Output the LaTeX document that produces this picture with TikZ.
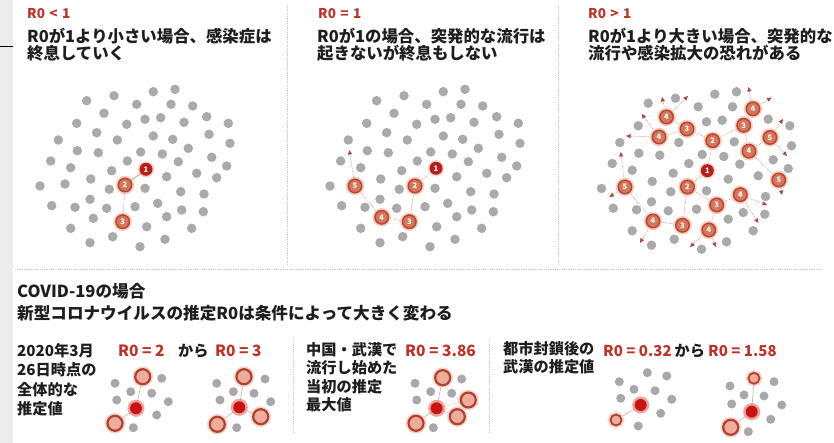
\documentclass[tikz,border=0pt]{standalone}
\usepackage{fontspec}
\setmainfont{Noto Sans CJK JP}
\usetikzlibrary{arrows.meta}
\definecolor{rtxt}{RGB}{190,50,40}
\definecolor{gdot}{RGB}{170,170,170}
\definecolor{dred}{RGB}{185,30,30}
\definecolor{salm}{RGB}{214,118,92}
\definecolor{ringc}{RGB}{185,70,50}
\definecolor{glow}{RGB}{246,208,195}
\definecolor{lnc}{RGB}{205,150,135}
\definecolor{arrc}{RGB}{175,70,60}
\definecolor{sepc}{RGB}{200,200,200}
\definecolor{stripc}{RGB}{236,236,236}
\definecolor{txt}{RGB}{30,30,30}
\definecolor{bred}{RGB}{200,20,20}
\definecolor{bhalo}{RGB}{235,125,115}
\definecolor{bpink}{RGB}{238,172,155}
\definecolor{bringc}{RGB}{175,65,50}
\definecolor{bglow}{RGB}{248,212,200}
\definecolor{bgray}{RGB}{168,168,172}
\definecolor{blc}{RGB}{200,185,175}
\def\dotsA{153.3/91.7,175/89.3,86.7/100.7,114/95.7,136.7/104.3,171/104.3,192.7/106,104/113.3,145/119.3,160.7/117.7,184/122.3,206.7/116.7,228.3/123.3,76.7/123.3,126.7/124.3,96.7/132.7,153.3/136,172.7/139.3,209/134.3,230/143.3,58.3/140,117.3/140,188.3/148.3,77.3/150.7,98.3/152.7,140.7/152,162.3/154,211.7/157.3,50.7/161,127.3/161,178.3/161.7,226.7/166,70.7/167.7,111.7/170.7,196.7/173.3,216.7/177.7,90.7/179,166.7/176.7,40/186,65/184,109.3/189.3,145/188.3,180.7/191.7,204/194,90/199.3,51.7/205.7,75/207.3,106.7/208.3,135/206.7,157.7/203.3,181.7/210,203.3/211.7,93.3/218.3,166.7/216.7,70.7/228.3,146.7/226.7,191.7/228.3,112.7/236.7,165/239.3,90/242.7,140/246.7}
\begin{document}
\begin{tikzpicture}[x=1pt,y=-1pt,
  gd/.style={circle,fill=gdot,minimum size=9.5pt,inner sep=0pt},
  nrone/.style={circle,fill=dred,minimum size=13pt,inner sep=0pt,text=white,font=\fontsize{7.5}{7.5}\selectfont\bfseries,preaction={draw=glow,line width=3pt}},
  nring/.style={circle,fill=salm,draw=ringc,line width=1.5pt,minimum size=13.5pt,inner sep=0pt,text=white,font=\fontsize{7.5}{7.5}\selectfont\bfseries,preaction={draw=glow,line width=5pt}},
  lnk/.style={draw=lnc,line width=0.7pt},
  dlnk/.style={lnk,densely dotted},
  arw/.style={dlnk,-{Triangle[length=4.5pt,width=4pt,color=arrc]}},
  sep/.style={draw=sepc,line width=0.8pt,densely dotted},
  hd/.style={anchor=base west,inner sep=0pt,text=rtxt,font=\fontsize{13.5}{13.5}\selectfont\bfseries},
  tt/.style={anchor=base west,inner sep=0pt,text=txt,font=\fontsize{16.4}{16.4}\selectfont\bfseries},
  tb/.style={anchor=base west,inner sep=0pt,text=txt,font=\fontsize{16.6}{16.6}\selectfont\bfseries},
  st/.style={anchor=base west,inner sep=0pt,text=txt,font=\fontsize{15.2}{15.2}\selectfont\bfseries},
  rv/.style={anchor=base west,inner sep=0pt,text=rtxt,font=\fontsize{15.5}{15.5}\selectfont\bfseries},
  rvs/.style={rv,font=\fontsize{15}{15}\selectfont\bfseries},
  bcen/.style={circle,fill=bred,minimum size=12pt,inner sep=0pt,preaction={draw=bhalo,line width=5pt,opacity=0.7}},
  bring/.style={circle,fill=bpink,draw=bringc,line width=2.2pt,minimum size=15pt,inner sep=0pt,preaction={draw=bglow,line width=5.5pt}},
  bsring/.style={bring,minimum size=11pt,line width=1.8pt},
  bgd/.style={circle,fill=bgray,minimum size=9pt,inner sep=0pt},
  blnk/.style={draw=blc,line width=0.7pt}
]
\useasboundingbox (0,0) rectangle (834,443);
\fill[white] (0,0) rectangle (834,443);
% left strip
\fill[stripc] (0,0) rectangle (13,443);
\draw[black,line width=1pt] (0,47) -- (13,47);
% separators
\draw[sep] (287,5) -- (287,265);
\draw[sep] (558,5) -- (558,265);
\draw[sep] (15,269) -- (820,269);
\draw[sep] (293,340) -- (293,432);
\draw[sep] (489,340) -- (489,432);
% headings
\node[hd] (h1) at (27,19) {R0\,\,<\,\,1};
\node[tt] (t1a) at (27,43) {R0が1より小さい場合、感染症は};
\node[tt] (t1b) at (27,60) {終息していく};
\node[hd] (h2) at (318,19) {R0\,\,=\,\,1};
\node[tt] (t2a) at (317,43) {R0が1の場合、突発的な流行は};
\node[tt] (t2b) at (317,60) {起きないが終息もしない};
\node[hd] (h3) at (588,19) {R0\,\,>\,\,1};
\node[tt] (t3a) at (588,43) {R0が1より大きい場合、突発的な};
\node[tt] (t3b) at (588,60) {流行や感染拡大の恐れがある};
% cluster 1
\foreach \x/\y [count=\i] in \dotsA {\node[gd] (c1g\i) at (\x,\y) {};}
\node[nrone] (c1n1) at (146,169.3) {1};
\node[nring] (c1n2) at (125,185) {2};
\node[nring] (c1n3) at (122.7,221.7) {3};
\draw[lnk] (c1n1) -- (c1n2);
\draw[dlnk] (c1n2) -- (c1n3);
% cluster 2
\begin{scope}[shift={(290,0)}]
\foreach \x/\y [count=\i] in \dotsA {\node[gd] (c2g\i) at (\x,\y) {};}
\end{scope}
\coordinate (c2t) at (349.3,150);
\draw[dlnk] (436,168.3) -- (415,186) -- (409.3,221.7) -- (381.7,217.3) -- (355,186);
\node[nrone] (c2n1) at (436,168.3) {1};
\node[nring] (c2n2) at (415,186) {2};
\node[nring] (c2n3) at (409.3,221.7) {3};
\node[nring] (c2n4) at (381.7,217.3) {4};
\node[nring] (c2n5) at (355,186) {5};
\draw[arw] (c2n5) -- (c2t);
% cluster 3
\begin{scope}[shift={(561.5,2.5)}]
\foreach \x/\y [count=\i] in \dotsA {\node[gd] (c3g\i) at (\x,\y) {};}
\end{scope}
\coordinate (p1) at (707.3,170.7);
\coordinate (pu2) at (712.7,140.7);
\coordinate (pul3) at (687,129);
\coordinate (pul4) at (666.5,117);
\coordinate (pl4) at (659,137);
\coordinate (pur3) at (743.7,125.3);
\coordinate (ptr4) at (753,108.8);
\coordinate (pr4) at (749,151.2);
\coordinate (pr5) at (770,137.5);
\coordinate (prb5) at (778.8,180);
\coordinate (pd2) at (687.5,187);
\coordinate (pm3) at (716.7,205);
\coordinate (plr4) at (740.3,194.7);
\coordinate (pb4) at (708.8,230);
\coordinate (pb3) at (682.5,225.3);
\coordinate (pbl4) at (653,221);
\coordinate (pl5) at (625,187);
\foreach \a/\b in {p1/pu2,p1/pd2,pu2/pul3,pu2/pur3,pul3/pul4,pul3/pl4,pur3/ptr4,pur3/pr4,pr4/pr5,pr4/prb5,pd2/pm3,pd2/pb3,pm3/plr4,pm3/pb4,pb3/pbl4,pbl4/pl5}
  {\draw[dlnk] (\a) -- (\b);}
\foreach \a/\x/\y [count=\k] in {pul4/662/97,pul4/688/96,pl4/641.7/114,pl4/626/136,ptr4/748.5/87,ptr4/771.5/97.5,pr5/783/119,pr5/787/156,prb5/782/195,plr4/767/205,plr4/758.5/223,pb4/716/247,pb4/690/247,pbl4/640/243,pl5/620.7/152,pl5/609.3/197}
  {\coordinate (c3t\k) at (\x,\y); \draw[arw] (\a) -- (c3t\k);}
\node[nrone] (c3n1) at (p1) {1};
\node[nring] (c3u2) at (pu2) {2};
\node[nring] (c3ul3) at (pul3) {3};
\node[nring] (c3ul4) at (pul4) {4};
\node[nring] (c3l4) at (pl4) {4};
\node[nring] (c3ur3) at (pur3) {3};
\node[nring] (c3tr4) at (ptr4) {4};
\node[nring] (c3r4) at (pr4) {4};
\node[nring] (c3r5) at (pr5) {5};
\node[nring] (c3rb5) at (prb5) {5};
\node[nring] (c3d2) at (pd2) {2};
\node[nring] (c3m3) at (pm3) {3};
\node[nring] (c3lr4) at (plr4) {4};
\node[nring] (c3b4) at (pb4) {4};
\node[nring] (c3b3) at (pb3) {3};
\node[nring] (c3bl4) at (pbl4) {4};
\node[nring] (c3l5) at (pl5) {5};
% bottom texts
\node[tb] (cv) at (17,298) {COVID-19の場合};
\node[tb] (sub) at (17,319) {新型コロナウイルスの推定R0は条件によって大きく変わる};
\node[st] (a1) at (17,356) {2020年3月};
\node[st] (a2) at (17,375.5) {26日時点の};
\node[st] (a3) at (17,395) {全体的な};
\node[st] (a4) at (17,414.5) {推定値};
\node[rv] (ra) at (118,356) {R0 = 2};
\node[st] (ka) at (178,356) {から};
\node[rv] (rb) at (215,356) {R0 = 3};
\node[st] (b1) at (306,355) {中国・武漢で};
\node[st] (b2) at (306,373.5) {流行し始めた};
\node[st] (b3) at (306,392) {当初の推定};
\node[st] (b4) at (306,410.5) {最大値};
\node[rv] (rc) at (405,356) {R0 = 3.86};
\node[st] (d1) at (503,354) {都市封鎖後の};
\node[st] (d2) at (503,372) {武漢の推定値};
\node[rvs] (rd) at (603,356) {R0 = 0.32};
\node[st] (kb) at (674.5,356) {から};
\node[rvs] (re) at (708,356) {R0 = 1.58};
% group A
\foreach \x/\y [count=\i] in {161.7/378.3,115/383.3,130.7/391.7,151.7/393.3,116.7/400,168.3/401.7,156.7/415,133.3/427.7}
  {\node[bgd] (ag\i) at (\x,\y) {};}
\coordinate (qa0) at (136,408.3);
\coordinate (qa1) at (142.7,376.7);
\coordinate (qa2) at (115,423.3);
\draw[blnk] (qa0) -- (qa1); \draw[blnk] (qa0) -- (qa2);
\node[bcen] (ac) at (qa0) {};
\node[bring] (ar1) at (qa1) {};
\node[bring] (ar2) at (qa2) {};
% group B
\foreach \x/\y [count=\i] in {265/379,216.7/383.3,233.3/391.7,254/393.3,220/400,270.7/401.7,236.7/427.7}
  {\node[bgd] (bg\i) at (\x,\y) {};}
\coordinate (qb0) at (239.3,407.3);
\coordinate (qb1) at (244,376.7);
\coordinate (qb2) at (217.3,424.3);
\coordinate (qb3) at (260.7,416.7);
\draw[blnk] (qb0) -- (qb1); \draw[blnk] (qb0) -- (qb2); \draw[blnk] (qb0) -- (qb3);
\node[bcen] (bc) at (qb0) {};
\node[bring] (br1) at (qb1) {};
\node[bring] (br2) at (qb2) {};
\node[bring] (br3) at (qb3) {};
% group C
\foreach \x/\y [count=\i] in {461.7/379,415/383.3,430.7/391.7,451.7/393.3,416.7/400,433.3/427.7}
  {\node[bgd] (cg\i) at (\x,\y) {};}
\coordinate (qc0) at (436.7,408.3);
\coordinate (qc1) at (442.7,377.7);
\coordinate (qc2) at (416,423.3);
\coordinate (qc3) at (468.3,400);
\coordinate (qc4) at (457.3,416.7);
\draw[blnk] (qc0) -- (qc1); \draw[blnk] (qc0) -- (qc2); \draw[blnk,densely dotted] (qc0) -- (qc3); \draw[blnk] (qc0) -- (qc4);
\node[bcen] (cc) at (qc0) {};
\node[bring] (cr1) at (qc1) {};
\node[bring] (cr2) at (qc2) {};
\node[bring] (cr3) at (qc3) {};
\node[bring] (cr4) at (qc4) {};
% group D
\foreach \x/\y [count=\i] in {647.3/372.7,666.7/376,619.3/381.7,634/389.3,655/390.7,620.7/398.3,671.7/399.3,660.7/413.3,638.3/426}
  {\node[bgd] (dg\i) at (\x,\y) {};}
\coordinate (qd0) at (640.7,405);
\coordinate (qd1) at (616,420);
\draw[blnk] (qd0) -- (qd1);
\node[bcen] (dc) at (qd0) {};
\node[bsring] (dr1) at (qd1) {};
% group E
\foreach \x/\y [count=\i] in {774/381.7,730/386,744/395,764/396,731.7/404,781.7/405,770.7/419.3,748.3/431.7}
  {\node[bgd] (eg\i) at (\x,\y) {};}
\coordinate (qe0) at (751.7,411.7);
\coordinate (qe1) at (754,378.3);
\coordinate (qe2) at (730.7,427.3);
\draw[blnk] (qe0) -- (qe1); \draw[blnk] (qe0) -- (qe2);
\node[bcen] (ec) at (qe0) {};
\node[bsring] (er1) at (qe1) {};
\node[bring] (er2) at (qe2) {};
\end{tikzpicture}
\end{document}
